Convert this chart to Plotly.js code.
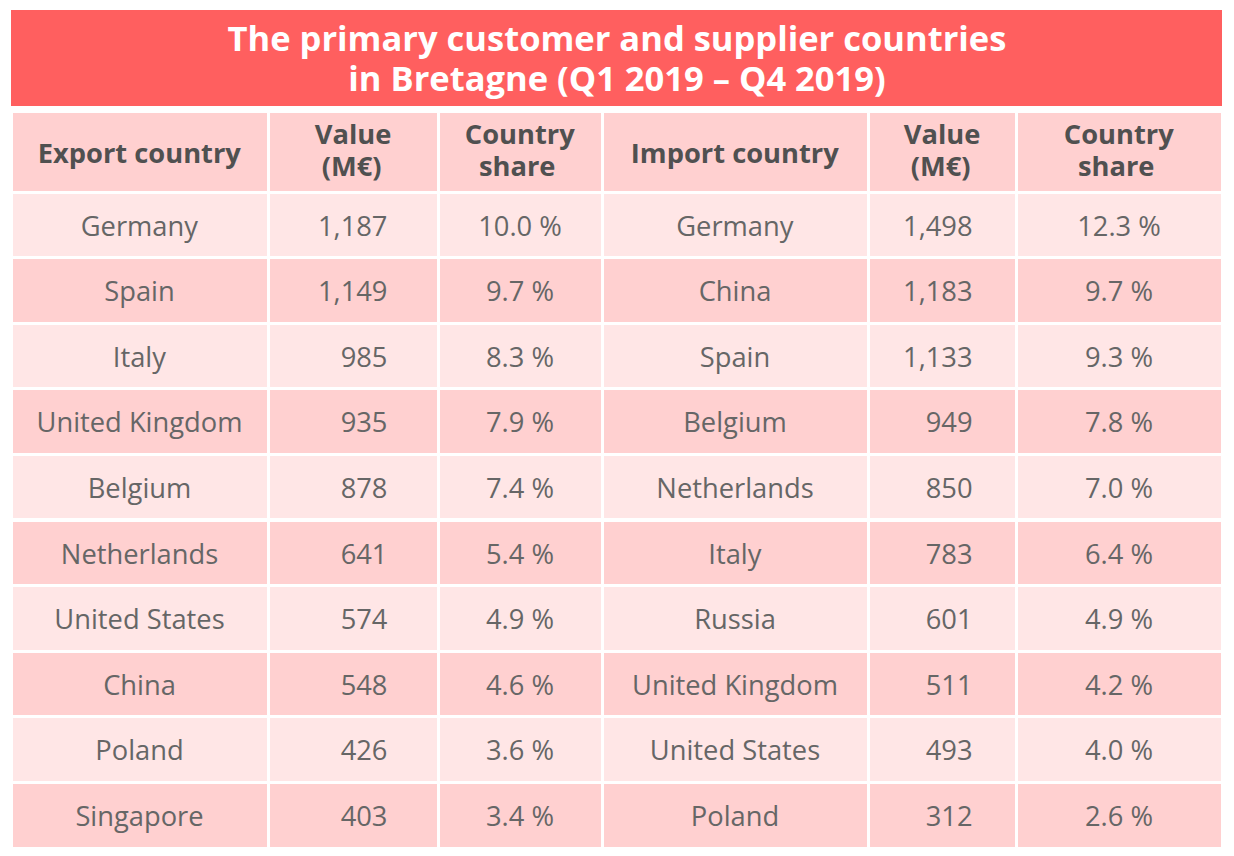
<!DOCTYPE html>
<html>
<head>
<meta charset="utf-8">
<script src="https://cdn.plot.ly/plotly-3.0.1.min.js"></script>
<style>html,body{margin:0;padding:0;background:#fff;}#chart{width:1234px;height:856px;}</style>
</head>
<body>
<div id="chart"></div>
<script>
const exportCountries = ["Germany","Spain","Italy","United Kingdom","Belgium","Netherlands","United States","China","Poland","Singapore"];
const exportValues = [1187,1149,985,935,878,641,574,548,426,403];
const exportShares = [10.0,9.7,8.3,7.9,7.4,5.4,4.9,4.6,3.6,3.4];
const importCountries = ["Germany","China","Spain","Belgium","Netherlands","Italy","Russia","United Kingdom","United States","Poland"];
const importValues = [1498,1183,1133,949,850,783,601,511,493,312];
const importShares = [12.3,9.7,9.3,7.8,7.0,6.4,4.9,4.2,4.0,2.6];
const headers = [["Export country"],["Value","(M€)"],["Country","share"],["Import country"],["Value","(M€)"],["Country","share"]];

const NB = "\u00a0";
// a blank lead line (non-breaking space) pushes the visible line down, acting as vertical centring
const LEAD = `<span style="font-size:10px">${NB}</span><br>`;
const wrapCell = (t, trail) => `${LEAD}<span style="font-size:27.3px">${t}${NB.repeat(trail || 0)}</span>`;
const fmtVal = v => v.toLocaleString("en-US");
const fmtShare = s => s.toFixed(1) + " %";
const padFor = {"(M€)": 1, "share": 2};
const wrapHead = lines => LEAD + lines.map(l =>
  `<b><span style="font-size:27.3px">${NB.repeat(padFor[l] || 0)}${l}</span></b>`).join("<br>");

const W = 1234, H = 856;
const light = "#FFE6E6", dark = "#FFD0D0";
const rowFill = exportCountries.map((_, i) => i % 2 === 0 ? light : dark);
const headerSizes = headers.map(h => h.length === 1 ? 38.85 : 24.6);

const trace = {
  type: "table",
  domain: {x: [11/W, 1222/W], y: [1 - 849/H, 1 - 93/H]},
  columnwidth: [257, 170, 164, 266, 148, 206],
  header: {
    values: headers.map(wrapHead),
    align: "center",
    height: 99,
    fill: {color: dark},
    line: {color: "#ffffff", width: 3},
    font: {family: "Open Sans", size: headerSizes, color: "#505050"}
  },
  cells: {
    values: [
      exportCountries.map(t => wrapCell(t)),
      exportValues.map(v => wrapCell(fmtVal(v), 6)),
      exportShares.map(s => wrapCell(fmtShare(s))),
      importCountries.map(t => wrapCell(t)),
      importValues.map(v => wrapCell(fmtVal(v), 5)),
      importShares.map(s => wrapCell(fmtShare(s)))
    ],
    align: ["center", "right", "center", "center", "right", "center"],
    height: 65.6,
    fill: {color: [rowFill, rowFill, rowFill, rowFill, rowFill, rowFill]},
    line: {color: "#ffffff", width: 3},
    font: {family: "Open Sans", size: 18.85, color: "#666666"}
  }
};

const layout = {
  width: W, height: H,
  margin: {l: 0, r: 0, t: 0, b: 0},
  paper_bgcolor: "#ffffff",
  showlegend: false,
  title: {
    text: '<span style="font-size:34.5px"><b>The primary customer and supplier countries</b></span><br><span style="font-size:34.5px"><b>in Bretagne (Q1 2019 – Q4 2019)</b></span>',
    font: {family: "Open Sans", size: 30.8, color: "#ffffff"},
    x: 0.5, xanchor: "center",
    y: 1 - 51/H, yanchor: "middle",
    yref: "paper"
  },
  shapes: [
    {
      type: "rect", xref: "paper", yref: "paper",
      x0: 11/W, x1: 1222/W, y0: 1 - 106/H, y1: 1 - 10/H,
      fillcolor: "#FF5F5F", line: {width: 0}, layer: "above"
    },
    {
      type: "rect", xref: "paper", yref: "paper",
      x0: 0, x1: 1, y0: 1 - 113/H, y1: 1 - 106/H,
      fillcolor: "#ffffff", line: {width: 0}, layer: "above"
    }
  ]
};

Plotly.newPlot("chart", [trace], layout, {displayModeBar: false, staticPlot: true});
</script>
</body>
</html>
